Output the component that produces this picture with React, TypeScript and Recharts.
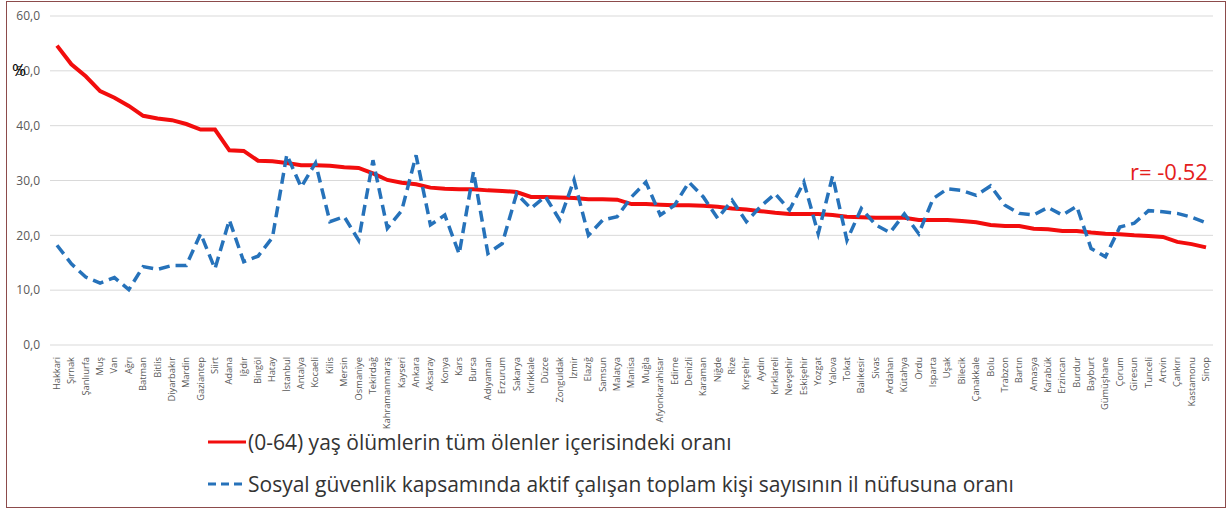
import { LineChart, Line, XAxis, YAxis, CartesianGrid } from "recharts";

// il adlari, (0-64) yas olum orani ile sirali
const provinces = [
  "Hakkari", "Şırnak", "Şanlıurfa", "Muş", "Van", "Ağrı", "Batman", "Bitlis", "Diyarbakır", "Mardin",
  "Gaziantep", "Siirt", "Adana", "Iğdır", "Bingöl", "Hatay", "İstanbul", "Antalya", "Kocaeli", "Kilis",
  "Mersin", "Osmaniye", "Tekirdağ", "Kahramanmaraş", "Kayseri", "Ankara", "Aksaray", "Konya", "Kars", "Bursa",
  "Adıyaman", "Erzurum", "Sakarya", "Kırıkkale", "Düzce", "Zonguldak", "İzmir", "Elazığ", "Samsun", "Malatya",
  "Manisa", "Muğla", "Afyonkarahisar", "Edirne", "Denizli", "Karaman", "Niğde", "Rize", "Kırşehir", "Aydın",
  "Kırklareli", "Nevşehir", "Eskişehir", "Yozgat", "Yalova", "Tokat", "Balıkesir", "Sivas", "Ardahan", "Kütahya",
  "Ordu", "Isparta", "Uşak", "Bilecik", "Çanakkale", "Bolu", "Trabzon", "Bartın", "Amasya", "Karabük",
  "Erzincan", "Burdur", "Bayburt", "Gümüşhane", "Çorum", "Giresun", "Tunceli", "Artvin", "Çankırı", "Kastamonu",
  "Sinop",
];

const deathShare = [
  54.6, 51.2, 49.0, 46.3, 45.1, 43.6, 41.8, 41.3, 41.0, 40.3,
  39.3, 39.3, 35.5, 35.4, 33.6, 33.5, 33.2, 32.8, 32.8, 32.7,
  32.4, 32.3, 31.3, 30.1, 29.6, 29.3, 28.7, 28.5, 28.4, 28.4,
  28.2, 28.1, 27.9, 27.0, 27.0, 26.9, 26.8, 26.6, 26.6, 26.5,
  25.7, 25.7, 25.6, 25.5, 25.5, 25.4, 25.2, 24.9, 24.7, 24.4,
  24.1, 23.9, 23.9, 23.9, 23.7, 23.4, 23.3, 23.2, 23.2, 23.2,
  22.8, 22.8, 22.8, 22.6, 22.4, 21.9, 21.7, 21.7, 21.2, 21.1,
  20.8, 20.8, 20.5, 20.3, 20.2, 20.0, 19.9, 19.7, 18.8, 18.4,
  17.8,
];

const insuredShare = [
  18.2, 14.8, 12.4, 11.3, 12.3, 10.1, 14.3, 13.8, 14.5, 14.5,
  20.3, 13.9, 22.8, 15.2, 16.2, 19.6, 34.7, 28.8, 33.2, 22.5,
  23.4, 19.1, 33.7, 21.3, 24.5, 34.6, 21.9, 23.7, 16.6, 31.6,
  16.7, 18.5, 27.6, 24.9, 27.1, 22.8, 30.1, 20.0, 22.8, 23.4,
  27.0, 29.7, 23.7, 25.5, 29.7, 27.0, 23.1, 26.4, 22.5, 25.3,
  27.6, 24.6, 29.7, 20.3, 30.8, 19.1, 24.9, 21.9, 20.5, 23.9,
  20.3, 26.7, 28.5, 28.2, 27.3, 29.0, 25.5, 24.0, 23.7, 25.1,
  23.7, 25.3, 17.6, 16.1, 21.5, 22.2, 24.5, 24.3, 24.0, 23.3,
  22.3,
];

const yTicks = [0, 10, 20, 30, 40, 50, 60];

const seriesNames = {
  death: "(0-64) yaş ölümlerin tüm ölenler içerisindeki oranı",
  insured: "Sosyal güvenlik kapsamında aktif çalışan toplam kişi sayısının il nüfusuna oranı",
};

const RED = "#f20d0d";
const BLUE = "#2672ba";
const FONT = "'Open Sans', 'Noto Sans', sans-serif";

const data = provinces.map((name, i) => ({ name, death: deathShare[i], insured: insuredShare[i] }));

const ProvinceTick = ({ x, y, payload }: any) => (
  <text
    x={x}
    y={y}
    transform={`rotate(-90, ${x}, ${y})`}
    textAnchor="end"
    dy="0.32em"
    fontSize={9.3}
    fontFamily={FONT}
    fill="#595959"
  >
    {payload.value}
  </text>
);

export default function App() {
  return (
    <div style={{ position: "absolute", left: 0, top: 0, width: 1228, height: 513, background: "#fff", fontFamily: FONT }}>
      <div style={{ position: "absolute", left: 6, top: 1, width: 1218, height: 505, border: "1.5px solid #8c4b4b" }} />
      <LineChart width={1228} height={513} data={data} margin={{ top: 16, right: 15, bottom: 0, left: 0 }}>
        <CartesianGrid vertical={false} stroke="#d9d9d9" />
        <XAxis
          dataKey="name"
          interval={0}
          axisLine={false}
          tickLine={false}
          height={168}
          padding={{ left: 7, right: 7 }}
          tick={<ProvinceTick />}
          tickMargin={6}
        />
        <YAxis
          domain={[0, 60]}
          ticks={yTicks}
          width={50}
          axisLine={false}
          tickLine={false}
          tickMargin={4}
          tickFormatter={(v: number) => v.toFixed(1).replace(".", ",")}
          tick={{ fontSize: 12, fill: "#595959", fontFamily: FONT }}
        />
        <Line
          dataKey="death"
          name={seriesNames.death}
          stroke={RED}
          strokeWidth={4}
          dot={false}
          isAnimationActive={false}
        />
        <Line
          dataKey="insured"
          name={seriesNames.insured}
          stroke={BLUE}
          strokeWidth={3.5}
          strokeDasharray="11 6"
          dot={false}
          isAnimationActive={false}
        />
      </LineChart>

      <div style={{ position: "absolute", left: 12, top: 58, fontSize: 17, color: "#000" }}>%</div>
      <div style={{ position: "absolute", left: 1130, top: 156, fontSize: 22, color: "#e4201c" }}>r= -0.52</div>

      {/* legend */}
      <div style={{ position: "absolute", left: 208, top: 427, fontSize: 21, color: "#333", lineHeight: "30px" }}>
        <div style={{ display: "flex", alignItems: "center" }}>
          <svg width={40} height={10}>
            <line x1={0} y1={5} x2={38} y2={5} stroke={RED} strokeWidth={3} />
          </svg>
          <span>{seriesNames.death}</span>
        </div>
        <div style={{ display: "flex", alignItems: "center", marginTop: 12 }}>
          <svg width={40} height={10}>
            <line x1={0} y1={5} x2={38} y2={5} stroke={BLUE} strokeWidth={3} strokeDasharray="8 5" />
          </svg>
          <span>{seriesNames.insured}</span>
        </div>
      </div>
    </div>
  );
}
